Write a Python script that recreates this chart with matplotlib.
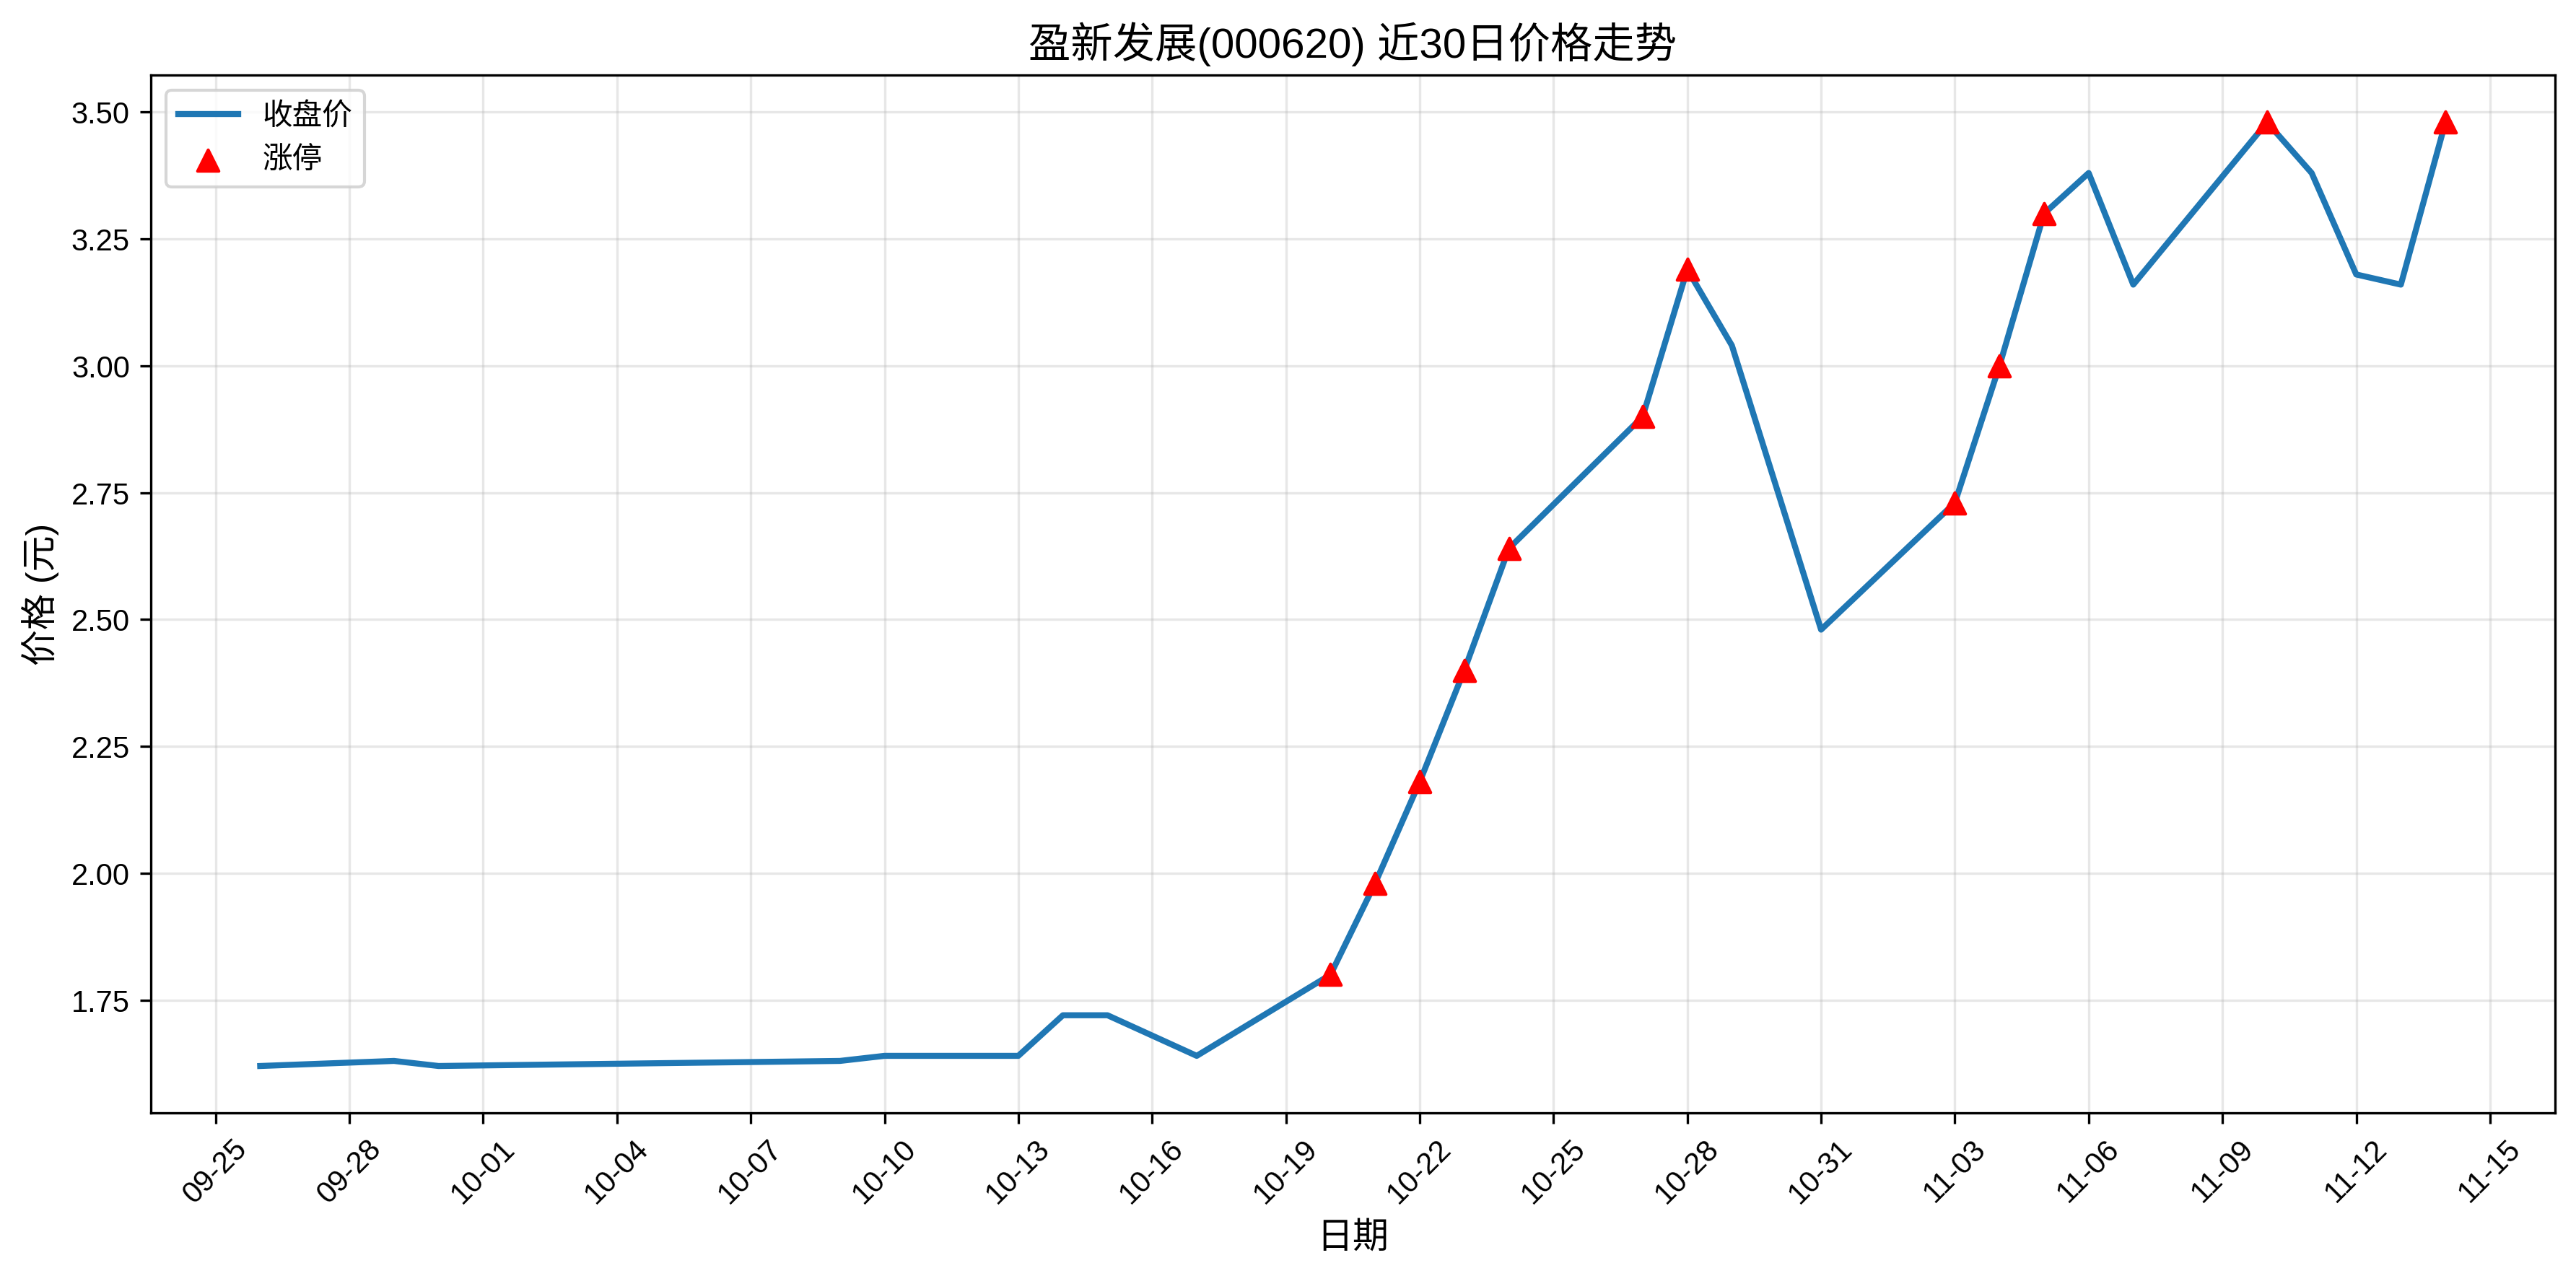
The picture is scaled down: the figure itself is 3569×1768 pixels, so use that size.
import matplotlib
matplotlib.use('Agg')
import matplotlib.pyplot as plt
import matplotlib.dates as mdates
import pandas as pd

plt.rcParams['font.family'] = ['Liberation Sans', 'Noto Sans CJK SC', 'DejaVu Sans']
plt.rcParams['axes.unicode_minus'] = False

# 近30个交易日收盘价
dates = pd.to_datetime([
    '2025-09-26', '2025-09-29', '2025-09-30', '2025-10-09', '2025-10-10',
    '2025-10-13', '2025-10-14', '2025-10-15', '2025-10-16', '2025-10-17',
    '2025-10-20', '2025-10-21', '2025-10-22', '2025-10-23', '2025-10-24',
    '2025-10-27', '2025-10-28', '2025-10-29', '2025-10-30', '2025-10-31',
    '2025-11-03', '2025-11-04', '2025-11-05', '2025-11-06', '2025-11-07',
    '2025-11-10', '2025-11-11', '2025-11-12', '2025-11-13', '2025-11-14',
])
close = [1.62, 1.63, 1.62, 1.63, 1.64,
         1.64, 1.72, 1.72, 1.68, 1.64,
         1.80, 1.98, 2.18, 2.40, 2.64,
         2.90, 3.19, 3.04, 2.76, 2.48,
         2.73, 3.00, 3.30, 3.38, 3.16,
         3.48, 3.38, 3.18, 3.16, 3.48]

# 涨停日
limit_up_dates = pd.to_datetime([
    '2025-10-20', '2025-10-21', '2025-10-22', '2025-10-23', '2025-10-24',
    '2025-10-27', '2025-10-28', '2025-11-03', '2025-11-04', '2025-11-05',
    '2025-11-10', '2025-11-14',
])
limit_up_close = [1.80, 1.98, 2.18, 2.40, 2.64,
                  2.90, 3.19, 2.73, 3.00, 3.30,
                  3.48, 3.48]

fig, ax = plt.subplots(figsize=(12, 6))
ax.plot(dates, close, color='#1f77b4', linewidth=2, label='收盘价')
ax.scatter(limit_up_dates, limit_up_close, color='red', marker='^', s=50,
           zorder=5, label='涨停')

ax.set_title('盈新发展(000620) 近30日价格走势', fontsize=14)
ax.set_xlabel('日期', fontsize=12)
ax.set_ylabel('价格 (元)', fontsize=12)
ax.grid(True, alpha=0.3)
ax.legend(loc='upper left')

ax.xaxis.set_major_locator(mdates.DayLocator(interval=3))
ax.xaxis.set_major_formatter(mdates.DateFormatter('%m-%d'))
plt.xticks(rotation=45)

plt.tight_layout()
plt.savefig('out.png', dpi=300, bbox_inches='tight')
